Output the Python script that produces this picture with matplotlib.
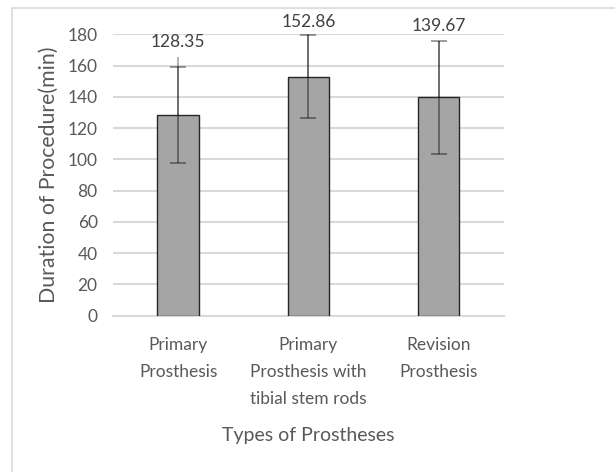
import matplotlib.pyplot as plt
import matplotlib.patches as mpatches
import numpy as np

categories = ['Primary\nProsthesis', 'Primary\nProsthesis with\ntibial stem rods', 'Revision\nProsthesis']
means = [128.35, 152.86, 139.67]
errors = [30.5, 26.5, 36.0]
# the first bar's error line runs on past its cap in the original
line_tops = [165.3, 180.0, 175.7]
value_labels = ['128.35', '152.86', '139.67']
yticks = [0, 20, 40, 60, 80, 100, 120, 140, 160, 180]

plt.rcParams['font.family'] = ['Lato', 'DejaVu Sans']
text_color = '#595959'
fontsize = 12.5

fig = plt.figure(figsize=(6.15, 4.72), dpi=100)
# light border around chart area (only left and top edges visible)
fig.patches.append(mpatches.Rectangle((12 / 615, -0.1), 1.2, 1.1 - 8 / 472,
                                      transform=fig.transFigure, fill=False,
                                      edgecolor='#d9d9d9', linewidth=1.2))

ax = fig.add_axes([0.1837, 0.3311, 0.6358, 0.5962])
x = np.arange(len(categories))

ax.bar(x, means, width=0.317, color='#a5a5a5', edgecolor='#262626',
       linewidth=1.0, zorder=3)

# extended line part without caps
ax.errorbar(x, means, yerr=[np.zeros(3), np.array(line_tops) - np.array(means)],
            fmt='none', ecolor='black', alpha=0.35, elinewidth=1.2, capsize=0, zorder=4)
# main error bars with caps
lower = np.array(errors)
upper = np.minimum(np.array(errors), np.array(line_tops) - np.array(means))
ax.errorbar(x, means, yerr=[lower, upper], fmt='none', ecolor='black', alpha=0.45,
            elinewidth=1.2, capsize=6, capthick=1.2, zorder=4)

offsets = [15, 12, 15]
for xi, top, lab, off in zip(x, line_tops, value_labels, offsets):
    ax.annotate(lab, (xi, top), xytext=(0, off), textcoords='offset pixels',
                ha='center', va='center', fontsize=fontsize, color='#404040')

ax.set_xlim(-0.5, 2.5)
ax.set_ylim(0, 180)
ax.set_yticks(yticks)
ax.set_xticks(x)
ax.set_xticklabels(categories, linespacing=1.87)
ax.tick_params(axis='both', length=0, labelsize=fontsize, colors=text_color)
ax.tick_params(axis='y', pad=11)
ax.tick_params(axis='x', pad=15)
ax.grid(axis='y', color='#d9d9d9', linewidth=1.5, zorder=0)
ax.set_axisbelow(True)
for s in ['top', 'right', 'left']:
    ax.spines[s].set_visible(False)
ax.spines['bottom'].set_color('#d9d9d9')
ax.spines['bottom'].set_linewidth(1.5)

ax.set_ylabel('Duration of Procedure(min)', fontsize=15.3, color=text_color, labelpad=6)
ax.set_xlabel('Types of Prostheses', fontsize=14, color=text_color, labelpad=14)

plt.savefig('out.png', dpi=100)
